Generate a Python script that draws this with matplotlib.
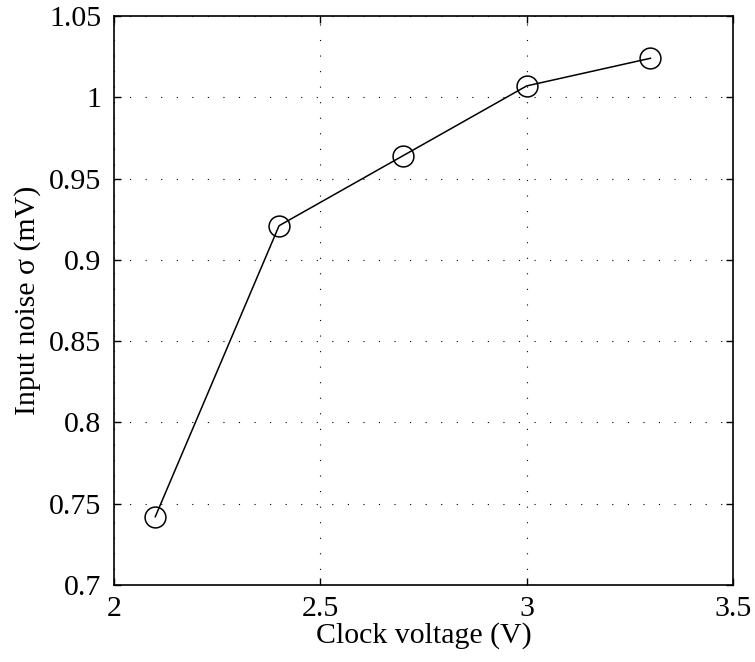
import matplotlib
matplotlib.use('Agg')
import matplotlib.pyplot as plt

# clock voltage sweep vs input-referred noise
clock_v = [2.1, 2.4, 2.7, 3.0, 3.3]
noise_mv = [0.742, 0.921, 0.964, 1.007, 1.024]

x_ticks = [2, 2.5, 3, 3.5]
y_ticks = [0.7, 0.75, 0.8, 0.85, 0.9, 0.95, 1, 1.05]

plt.rcParams['font.family'] = ['Liberation Serif', 'DejaVu Serif']
plt.rcParams['font.size'] = 21.5

fig = plt.figure(figsize=(7.55, 6.62), dpi=100)
ax = fig.add_axes([114/755, 1 - 585/662, (733-114)/755, (585-16)/662])

ax.plot(clock_v, noise_mv, 'k-', lw=1.1, marker='o', markersize=15,
        markerfacecolor='none', markeredgecolor='k', markeredgewidth=1.1)

ax.set_xlim(2, 3.5)
ax.set_ylim(0.7, 1.05)
ax.set_xticks(x_ticks)
ax.set_xticklabels(['2', '2.5', '3', '3.5'])
ax.set_yticks(y_ticks)
ax.set_yticklabels(['0.7', '0.75', '0.8', '0.85', '0.9', '0.95', '1', '1.05'])
ax.grid(True, color='k', linestyle=(0, (1, 13)), lw=0.8)
ax.tick_params(direction='in', length=5, width=1, top=True, right=True)
ax.tick_params(axis='y', pad=9)
ax.tick_params(axis='x', pad=8)
for s in ax.spines.values():
    s.set_linewidth(1.2)

ax.set_xlabel('Clock voltage (V)', labelpad=0)
ax.set_ylabel('Input noise σ (mV)', labelpad=6)

fig.savefig('out.png', dpi=100)
